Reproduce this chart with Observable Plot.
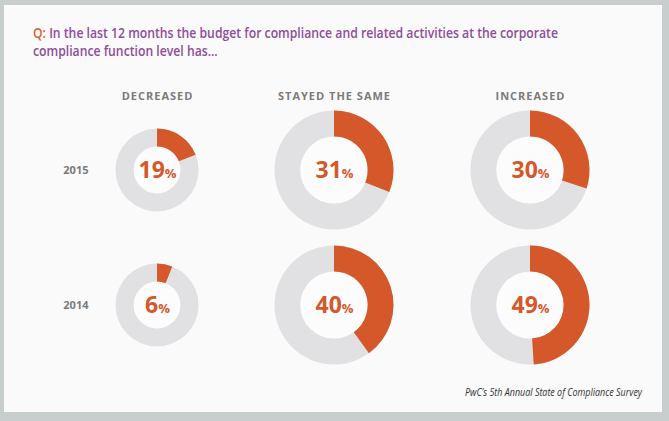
<!DOCTYPE html>
<html>
<head>
<meta charset="utf-8">
<script src="https://cdn.jsdelivr.net/npm/d3@7"></script>
<script src="https://cdn.jsdelivr.net/npm/@observablehq/plot@0.6"></script>
<style>
  body { margin: 0; }
  #frame { position: relative; width: 669px; height: 421px; background: #c8cece; overflow: hidden; }
  #panel { position: absolute; left: 4px; top: 5px; width: 658px; height: 407px; background: #fafafa; }
  #title { position: absolute; left: 33px; top: 24px; transform-origin: 0 0;
    font-family: "Open Sans", sans-serif; white-space: nowrap;
    font-weight: 600; font-size: 13.5px; line-height: 18px; color: #8d4c9c; }
  #title .q { color: #d5622d; }
  #title span.line { display: block; }
  #chart { position: absolute; left: 0; top: 75px; }
  #caption { position: absolute; left: 465px; top: 385px; transform-origin: 0 0; white-space: nowrap;
    font-family: "Open Sans", sans-serif;
    font-style: italic; font-size: 10px; color: #333; }
  g[aria-label="x-axis tick label"] { letter-spacing: 1px; }
</style>
</head>
<body>
<div id="frame">
  <div id="panel"></div>
  <div id="title"><span class="line" id="line1"><span class="q">Q:</span> In the last 12 months the budget for compliance and related activities at the corporate</span><span class="line">compliance function level has...</span></div>
  <div id="chart"></div>
  <div id="caption">PwC’s 5th Annual State of Compliance Survey</div>
</div>
<script>
const categories = ["DECREASED", "STAYED THE SAME", "INCREASED"];
const years = ["2015", "2014"];
const values2015 = [19, 31, 30];
const values2014 = [6, 40, 49];

const rows = [];
categories.forEach((c, i) => {
  rows.push({category: c, year: "2015", pct: values2015[i]});
  rows.push({category: c, year: "2014", pct: values2014[i]});
});

const orange = "#d4582a";
const ringGray = "#e1e1e3";
const outerR = c => c === "DECREASED" ? 41.5 : 59.5;
const innerRatio = 0.565;

function donuts(index, scales) {
  const g = d3.create("svg:g").attr("aria-label", "donuts");
  const arc = d3.arc();
  for (const d of rows) {
    const cx = scales.x(d.category), cy = scales.y(d.year);
    const R = outerR(d.category), r = R * innerRatio;
    const gg = g.append("g").attr("transform", `translate(${cx},${cy})`);
    gg.append("circle").attr("r", r).attr("fill", "#fcfcfc");
    gg.append("path").attr("fill", ringGray)
      .attr("d", arc({innerRadius: r, outerRadius: R, startAngle: 0, endAngle: 2 * Math.PI}));
    gg.append("path").attr("fill", orange)
      .attr("d", arc({innerRadius: r, outerRadius: R, startAngle: 0, endAngle: d.pct / 100 * 2 * Math.PI}));
  }
  return g.node();
}

const chart = Plot.plot({
  width: 669,
  height: 310,
  marginTop: 28,
  marginLeft: 90,
  marginRight: 20,
  marginBottom: 10,
  style: {background: "transparent", fontFamily: "'Open Sans', sans-serif", overflow: "visible"},
  x: {type: "ordinal", domain: categories, range: [157, 334, 530]},
  y: {type: "point", domain: years, range: [95, 230], padding: 0},
  marks: [
    donuts,
    Plot.axisX({anchor: "top", tickSize: 0, tickPadding: 4, fontSize: 11, fontWeight: "bold", fill: "#7b7b7b", label: null}),
    Plot.axisY({anchor: "left", tickSize: 0, tickPadding: 2, fontSize: 11, fontWeight: "bold", fill: "#7b7b7b", label: null}),
    Plot.text(rows, {x: "category", y: "year", text: d => d.pct + "%", fill: orange, fontSize: 23, fontWeight: "bold"})
  ]
});
document.getElementById("chart").append(chart);

// render the % sign smaller, as in the reference
d3.select(chart).selectAll('g[aria-label="text"] text').each(function () {
  const t = this.textContent;
  const num = t.replace("%", "");
  const sel = d3.select(this);
  sel.text(null);
  sel.append("tspan").text(num);
  sel.append("tspan").attr("font-size", 13).text("%");
});

// condense title and caption to the reference widths
function fit(el, inner, w) {
  const actual = inner.getBoundingClientRect().width;
  el.style.transform = `scaleX(${w / actual})`;
}
const l1 = document.getElementById("line1");
l1.style.display = "inline-block";
fit(document.getElementById("title"), l1, 525);
l1.style.display = "block";
const cap = document.getElementById("caption");
cap.style.display = "inline-block";
fit(cap, cap, 177);
</script>
</body>
</html>
